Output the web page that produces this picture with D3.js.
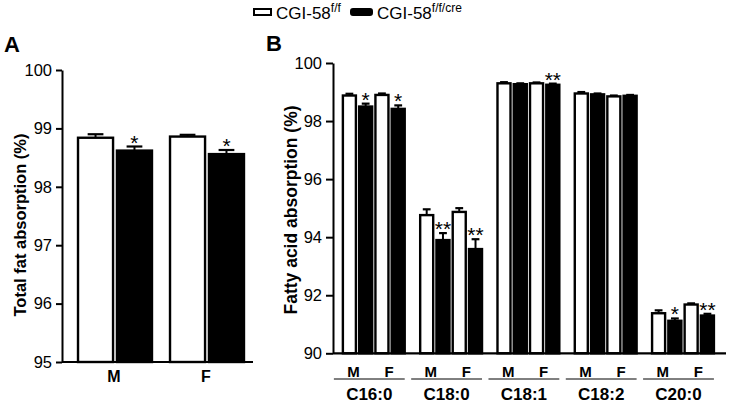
<!DOCTYPE html>
<html>
<head>
<meta charset="utf-8">
<script src="https://cdn.jsdelivr.net/npm/d3@7"></script>
<style>
  body { margin: 0; background: #fff; }
  svg { font-family: "Liberation Sans", Arial, sans-serif; }
</style>
</head>
<body>
<div id="chart"></div>
<script>
// panel A: total fat absorption
const sexes = ["M", "F"]
const totalFF = [98.84, 98.86]
const totalFFErr = [0.06, 0.03]
const totalCre = [98.62, 98.56]
const totalCreErr = [0.07, 0.07]
const totalSig = ["*", "*"]
const totalTicks = [95, 96, 97, 98, 99, 100]

// panel B: fatty acid absorption, per acid
const acids = ["C16:0", "C18:0", "C18:1", "C18:2", "C20:0"]
const ffM = [98.88, 94.76, 99.3, 98.95, 91.38]
const ffMErr = [0.06, 0.2, 0.04, 0.05, 0.1]
const creM = [98.5, 93.9, 99.27, 98.92, 91.12]
const creMErr = [0.1, 0.24, 0.03, 0.03, 0.08]
const ffF = [98.9, 94.87, 99.3, 98.85, 91.68]
const ffFErr = [0.05, 0.13, 0.03, 0.03, 0.04]
const creF = [98.42, 93.59, 99.25, 98.87, 91.3]
const creFErr = [0.12, 0.34, 0.04, 0.03, 0.06]
const sigM = ["*", "**", "", "", "*"]
const sigF = ["*", "**", "**", "", "**"]
const acidTicks = [90, 92, 94, 96, 98, 100]

const genotypes = ["CGI-58", "CGI-58"]
const genoSup = ["f/f", "f/f/cre"]
const fills = ["#fff", "#000"]

const svg = d3.select("#chart").append("svg")
  .attr("width", 731)
  .attr("height", 407)

function styleAxis(g) {
  g.selectAll("path, line").attr("stroke", "#000").attr("stroke-width", 2)
  g.selectAll("text").attr("font-size", "16.5px").attr("fill", "#000")
}

function drawBar(g, x, w, yScale, base, val, err, fill, capW) {
  const top = yScale(val)
  const errTop = yScale(val + err)
  g.append("line")
    .attr("x1", x + w / 2).attr("x2", x + w / 2)
    .attr("y1", top).attr("y2", errTop)
    .attr("stroke", "#000").attr("stroke-width", 2)
  g.append("line")
    .attr("x1", x + w / 2 - capW / 2).attr("x2", x + w / 2 + capW / 2)
    .attr("y1", errTop).attr("y2", errTop)
    .attr("stroke", "#000").attr("stroke-width", 2.2)
  g.append("rect")
    .attr("x", x).attr("y", top)
    .attr("width", w).attr("height", yScale(base) - top)
    .attr("fill", fill)
    .attr("stroke", "#000").attr("stroke-width", 2.4)
  return errTop
}

function star(g, x, y, s) {
  if (!s) return
  g.append("text")
    .attr("x", x).attr("y", y + 3)
    .attr("text-anchor", "middle")
    .attr("font-size", "21px")
    .text(s)
}

// ---------- panel A ----------
const yA = d3.scaleLinear().domain([95, 100]).range([362, 70])
const xA = d3.scaleBand().domain(sexes).range([62, 253])
  .paddingInner(0.196).paddingOuter(0.136).align(0.64)
const subA = d3.scaleBand().domain([0, 1]).range([0, xA.bandwidth()]).paddingInner(0.1)

const gA = svg.append("g")
gA.append("g")
  .attr("transform", "translate(62,0)")
  .call(d3.axisLeft(yA).tickValues(totalTicks).tickFormat(d3.format("d"))
    .tickSize(6).tickSizeOuter(0).tickPadding(4))
  .call(styleAxis)

sexes.forEach((s, i) => {
  const x0 = xA(s)
  drawBar(gA, x0 + subA(0), subA.bandwidth(), yA, 95, totalFF[i], totalFFErr[i], fills[0], subA.bandwidth() * 0.45)
  const t = drawBar(gA, x0 + subA(1), subA.bandwidth(), yA, 95, totalCre[i], totalCreErr[i], fills[1], subA.bandwidth() * 0.45)
  star(gA, x0 + subA(1) + subA.bandwidth() / 2, t, totalSig[i])
  gA.append("text")
    .attr("x", x0 + xA.bandwidth() / 2 - 1)
    .attr("y", 382)
    .attr("text-anchor", "middle")
    .attr("font-size", "16px").attr("font-weight", "bold")
    .text(s)
})

gA.append("line")
  .attr("x1", 62).attr("x2", 253).attr("y1", 362).attr("y2", 362)
  .attr("stroke", "#000").attr("stroke-width", 2)

gA.append("text")
  .attr("transform", "translate(26,225) rotate(-90)")
  .attr("text-anchor", "middle")
  .attr("font-size", "16.5px").attr("font-weight", "bold")
  .text("Total fat absorption (%)")

gA.append("text")
  .attr("x", 4).attr("y", 52)
  .attr("font-size", "22px").attr("font-weight", "bold")
  .text("A")

// ---------- panel B ----------
const yB = d3.scaleLinear().domain([90, 100]).range([353.3, 63])
const xB = d3.scaleBand().domain(acids).range([333, 726])
  .paddingInner(0.2).paddingOuter(0.142).align(0.45)
const subB = d3.scaleBand().domain([0, 1, 2, 3]).range([0, xB.bandwidth()]).paddingInner(0.2)

const gB = svg.append("g")
gB.append("g")
  .attr("transform", "translate(333,0)")
  .call(d3.axisLeft(yB).tickValues(acidTicks).tickSize(7).tickSizeOuter(0).tickPadding(4))
  .call(styleAxis)

acids.forEach((a, i) => {
  const x0 = xB(a)
  const w = subB.bandwidth()
  const cap = w * 0.6
  const series = [
    [ffM[i], ffMErr[i], 0, ""],
    [creM[i], creMErr[i], 1, sigM[i]],
    [ffF[i], ffFErr[i], 0, ""],
    [creF[i], creFErr[i], 1, sigF[i]],
  ]
  series.forEach((d, j) => {
    const bx = x0 + subB(j)
    const t = drawBar(gB, bx, w, yB, 90, d[0], d[1], fills[d[2]], cap)
    star(gB, bx + w / 2, t, d[3])
  })

  // sex labels under each pair
  sexes.forEach((s, k) => {
    const cx = x0 + (subB(k * 2) + subB(k * 2 + 1) + w) / 2 - (k === 0 ? 4 : 1)
    gB.append("text")
      .attr("x", cx).attr("y", 377)
      .attr("text-anchor", "middle")
      .attr("font-size", "15px").attr("font-weight", "bold")
      .text(s)
  })

  const lx1 = x0 - 9
  const lx2 = x0 + xB.bandwidth()
  gB.append("line")
    .attr("x1", lx1).attr("x2", lx2).attr("y1", 379).attr("y2", 379)
    .attr("stroke", "#000").attr("stroke-width", 1)
  gB.append("text")
    .attr("x", (lx1 + lx2) / 2).attr("y", 400)
    .attr("text-anchor", "middle")
    .attr("font-size", "17px").attr("font-weight", "bold")
    .text(a)
})

gB.append("line")
  .attr("x1", 333).attr("x2", 726).attr("y1", 353.3).attr("y2", 353.3)
  .attr("stroke", "#000").attr("stroke-width", 2.2)

gB.append("text")
  .attr("transform", "translate(297,210) rotate(-90)")
  .attr("text-anchor", "middle")
  .attr("font-size", "17.5px").attr("font-weight", "bold")
  .text("Fatty acid absorption (%)")

gB.append("text")
  .attr("x", 266).attr("y", 51)
  .attr("font-size", "22px").attr("font-weight", "bold")
  .text("B")

// ---------- legend ----------
const legX = [254, 351]
const legW = [17, 21]
genotypes.forEach((gname, i) => {
  svg.append("rect")
    .attr("x", legX[i]).attr("y", 9)
    .attr("width", legW[i]).attr("height", 6)
    .attr("rx", i === 1 ? 2 : 0)
    .attr("fill", fills[i]).attr("stroke", "#000").attr("stroke-width", 2)
  const t = svg.append("text")
    .attr("x", legX[i] + legW[i] + 5).attr("y", 19)
    .attr("font-size", "17px")
  t.append("tspan").text(gname)
  t.append("tspan").attr("font-size", "12px").attr("dy", -7).text(genoSup[i])
})
</script>
</body>
</html>
